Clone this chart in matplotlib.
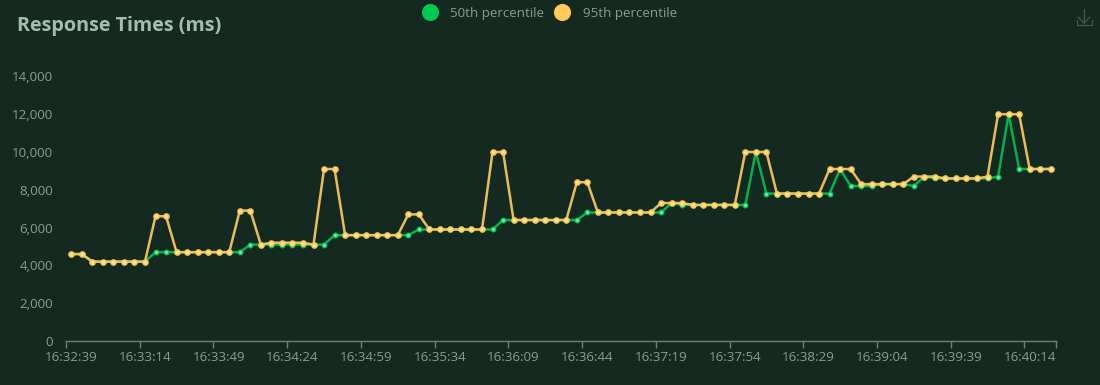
import matplotlib
matplotlib.use("Agg")
import matplotlib.pyplot as plt
from matplotlib.lines import Line2D

p50 = [4600,4600,4200,4200,4200,4200,4200,4200,4700,4700,
       4700,4700,4700,4700,4700,4700,4700,5100,5100,5100,
       5100,5100,5100,5100,5100,5600,5600,5600,5600,5600,
       5600,5600,5600,5900,5900,5900,5900,5900,5900,5900,
       5900,6400,6400,6400,6400,6400,6400,6400,6400,6800,
       6800,6800,6800,6800,6800,6800,6800,7300,7200,7200,
       7200,7200,7200,7200,7200,10000,7800,7800,7800,7800,
       7800,7800,7800,9100,8200,8200,8200,8300,8300,8300,
       8200,8700,8600,8600,8600,8600,8600,8600,8700,12000,
       9100,9100,9100,9100]
p95 = [4600,4600,4200,4200,4200,4200,4200,4200,6600,6600,
       4700,4700,4700,4700,4700,4700,6900,6900,5100,5200,
       5200,5200,5200,5100,9100,9100,5600,5600,5600,5600,
       5600,5600,6700,6700,5900,5900,5900,5900,5900,5900,
       10000,10000,6400,6400,6400,6400,6400,6400,8400,8400,
       6800,6800,6800,6800,6800,6800,7300,7300,7300,7200,
       7200,7200,7200,7200,10000,10000,10000,7800,7800,7800,
       7800,7800,9100,9100,9100,8300,8300,8300,8300,8300,
       8700,8700,8700,8600,8600,8600,8600,8700,12000,12000,
       12000,9100,9100,9100]
tick_labels = ["16:32:39","16:33:14","16:33:49","16:34:24","16:34:59","16:35:34",
               "16:36:09","16:36:44","16:37:19","16:37:54","16:38:29","16:39:04",
               "16:39:39","16:40:14"]
y_ticks = [0,2000,4000,6000,8000,10000,12000,14000]
series_names = ["50th percentile","95th percentile"]

W, H = 1100, 385
BG = "#142a21"; TXT = "#8b9d93"; GREEN = "#00c853"; YEL = "#ffc95c"
plt.rcParams["font.family"] = ["Open Sans", "Noto Sans", "DejaVu Sans"]
fig = plt.figure(figsize=(W/100, H/100), dpi=100, facecolor=BG)
ax = fig.add_axes([66/W, 1-341/H, 990/W, (341-76.4)/H], facecolor=BG)
x = list(range(len(p50)))
ax.plot(x, p50, color=GREEN, lw=1.8, marker="o", ms=3.2, mfc="#a8f0c4", mec=GREEN, mew=1.1,
        solid_joinstyle="round", alpha=0.85, clip_on=False, zorder=3)
ax.plot(x, p95, color=YEL, lw=1.8, marker="o", ms=3.6, mfc="#ffe29c", mec=YEL, mew=1.2,
        solid_joinstyle="round", alpha=0.92, clip_on=False, zorder=4)
ax.set_xlim(-0.5, len(p50)-0.5)
ax.set_ylim(0, 14000)
for s in ["top","left","right"]:
    ax.spines[s].set_visible(False)
ax.spines["bottom"].set_color("#6e7f76")
ax.spines["bottom"].set_linewidth(1)
ax.set_yticks(y_ticks)
ax.set_yticklabels([f"{v:,}" for v in y_ticks], fontsize=9.6, color=TXT)
ax.tick_params(axis="y", length=0, pad=9.5)
ax.set_xticks([i-0.5 for i in range(0, len(p50), 7)] + [len(p50)-0.5])
ax.set_xticklabels([])
ax.tick_params(axis="x", length=5, width=1, color="#6e7f76", pad=0)
for i, lab in enumerate(tick_labels):
    ax.annotate(lab, (i*7, 0), xycoords=("data","axes fraction"), xytext=(0, -7), textcoords="offset points",
                ha="center", va="top", fontsize=9.6, color=TXT, annotation_clip=False)
fig.text(17/W, 1-26.5/H, "Response Times (ms)", fontsize=14.2, fontweight="bold", color="#a5bdb0",
         ha="left", va="center")
leg_handles = [Line2D([],[],ls="",marker="o",ms=11.3,color=GREEN), Line2D([],[],ls="",marker="o",ms=11.3,color=YEL)]
leg = fig.legend(leg_handles, series_names, loc="center", bbox_to_anchor=(548.5/W, 1-13/H), ncol=2, frameon=False,
                 fontsize=9.6, labelcolor=TXT, handletextpad=0.78, columnspacing=0.6, borderpad=0, handlelength=1.5)
col = "#46584f"
def L(xs, ys):
    fig.add_artist(Line2D([v/W for v in xs], [1-v/H for v in ys], color=col, lw=0.9))
L([1084,1084],[9,23]); L([1078,1084,1090],[17,23,17]); L([1077,1077,1091.5,1091.5],[20,24.5,24.5,20])
fig.savefig("out.png", dpi=100, facecolor=BG)
